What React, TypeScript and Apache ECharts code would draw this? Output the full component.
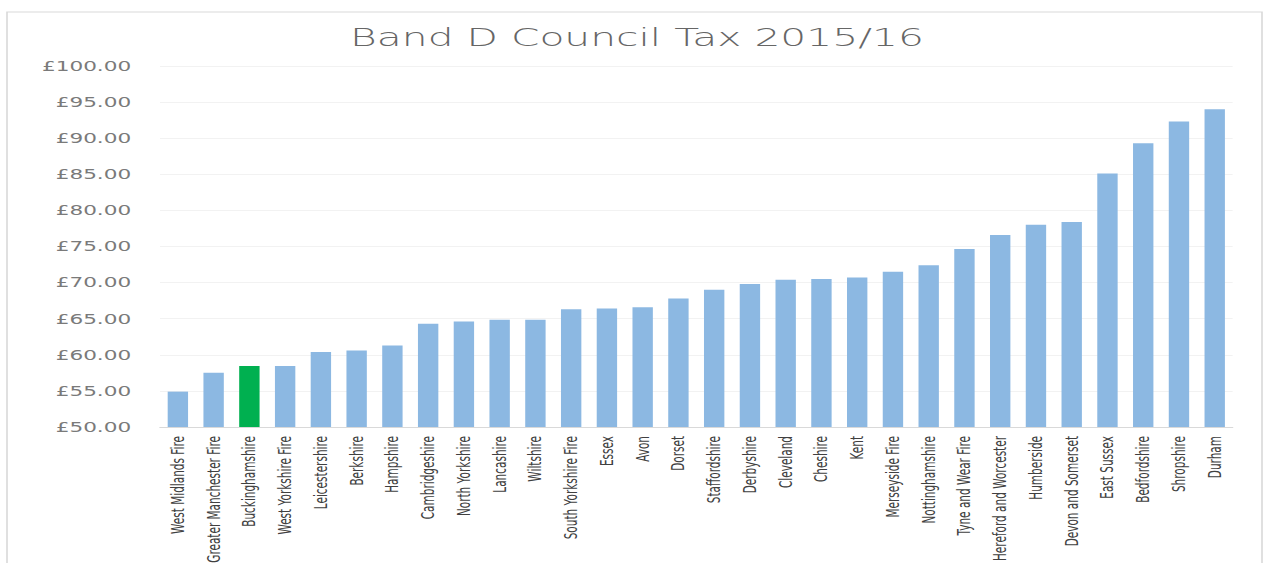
import React, { useEffect, useRef } from "react";
import * as echarts from "echarts";

const categories: string[] = [
  "West Midlands Fire",
  "Greater Manchester Fire",
  "Buckinghamshire",
  "West Yorkshire Fire",
  "Leicestershire",
  "Berkshire",
  "Hampshire",
  "Cambridgeshire",
  "North Yorkshire",
  "Lancashire",
  "Wiltshire",
  "South Yorkshire Fire",
  "Essex",
  "Avon",
  "Dorset",
  "Staffordshire",
  "Derbyshire",
  "Cleveland",
  "Cheshire",
  "Kent",
  "Merseyside Fire",
  "Nottinghamshire",
  "Tyne and Wear Fire",
  "Hereford and Worcester",
  "Humberside",
  "Devon and Somerset",
  "East Sussex",
  "Bedfordshire",
  "Shropshire",
  "Durham",
];

const values: number[] = [
  54.9, 57.5, 58.45, 58.45, 60.4, 60.6, 61.3, 64.3, 64.6, 64.85, 64.85, 66.3,
  66.4, 66.6, 67.8, 69.0, 69.8, 70.4, 70.5, 70.7, 71.5, 72.4, 74.65, 76.6, 78.0,
  78.4, 85.1, 89.3, 92.3, 94.0,
];

const highlighted: string[] = ["Buckinghamshire"];

const titleText = "Band D Council Tax 2015/16";

const W = 1266;
const H = 563;
const S = 1.6;
const IW = W / S;

export default function App() {
  const ref = useRef<HTMLDivElement>(null);

  useEffect(() => {
    if (!ref.current) return;
    const chart = echarts.init(ref.current, undefined, { renderer: "svg" });
    const barColor = "#8cb8e2";
    const hiColor = "#00b050";
    chart.setOption({
      animation: false,
      backgroundColor: "#ffffff",
      graphic: [
        {
          type: "rect",
          shape: { x: 7 / S, y: 12, width: (1262 - 7) / S, height: 600 },
          style: { fill: "none", stroke: "#d9d9d9", lineWidth: 1 },
          silent: true,
          z: -1,
        },
        {
          type: "text",
          x: 637 / S,
          y: 37,
          style: {
            text: titleText,
            fontFamily: "DejaVu Sans",
            fontWeight: 200,
            fontSize: 25.5,
            fill: "#666666",
            textAlign: "center",
            textVerticalAlign: "middle",
          },
        },
      ],
      grid: {
        left: 160 / S,
        right: IW - 1233 / S,
        top: 66,
        bottom: H - 427,
        containLabel: false,
        outerBoundsMode: "none",
      },
      xAxis: {
        type: "category",
        data: categories,
        axisLine: { lineStyle: { color: "#d9d9d9", width: 1 } },
        axisTick: { show: false },
        axisLabel: {
          interval: 0,
          rotate: 90,
          margin: 9,
          fontFamily: "DejaVu Sans",
          fontSize: 10.5,
          color: "#404040",
        },
      },
      yAxis: {
        type: "value",
        min: 50,
        max: 100,
        interval: 5,
        axisLine: { show: false },
        axisTick: { show: false },
        splitLine: { lineStyle: { color: "#f2f2f2", width: 1 } },
        axisLabel: {
          margin: 18,
          fontFamily: "DejaVu Sans",
          fontSize: 13.5,
          color: "#7a7a7a",
          formatter: (v: number) => "£" + v.toFixed(2),
        },
      },
      series: [
        {
          type: "bar",
          barWidth: "57%",
          data: values.map((v, i) => ({
            value: v,
            itemStyle: {
              color: highlighted.includes(categories[i]) ? hiColor : barColor,
            },
          })),
        },
      ],
    });
    return () => chart.dispose();
  }, []);

  return (
    <div
      style={{
        position: "absolute",
        left: 0,
        top: 0,
        width: W,
        height: H,
        overflow: "hidden",
        background: "#ffffff",
      }}
    >
      <div
        ref={ref}
        style={{
          width: IW,
          height: H,
          transform: `scaleX(${S})`,
          transformOrigin: "0 0",
        }}
      />
    </div>
  );
}
